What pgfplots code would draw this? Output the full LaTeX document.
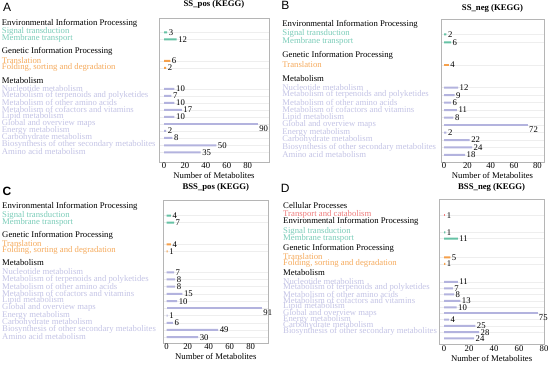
\documentclass[border=0pt]{standalone}
\usepackage{pgfplots}
\pgfplotsset{compat=1.18}
\usepackage{fontspec}
\setmainfont{Liberation Serif}
\newfontfamily\lettfont{Liberation Sans}
\definecolor{tealB}{HTML}{66C2A5}
\definecolor{tealT}{HTML}{7ACCB8}
\definecolor{orangeB}{HTML}{F5A04B}
\definecolor{orangeT}{HTML}{F5AA5C}
\definecolor{purpB}{HTML}{B3B3DE}
\definecolor{purpT}{HTML}{C3C3E5}
\definecolor{redB}{HTML}{F07A7A}
\definecolor{redT}{HTML}{EE7B7B}
\definecolor{boxc}{HTML}{B5B5B5}
\definecolor{gridc}{HTML}{EEEEEE}
\newcommand\ff{\fontsize{8.7pt}{9pt}\selectfont}
\newcommand\lf{\lettfont\fontsize{12pt}{12pt}\selectfont}
\pgfplotsset{
 panel/.style={
  scale only axis, anchor=south west,
  xbar, bar shift=0pt, bar width=2pt,
  axis line style={draw=boxc, line width=0.6pt},
  clip=false,
  xtick={0,20,40,60,80},
  xtick style={draw=none},
  ytick style={draw=none},
  /pgf/number format/assume math mode=true,
  tick label style={font=\ff},
  xticklabel style={anchor=base, yshift=-7pt, inner sep=0pt},
  yticklabel style={anchor=west, inner sep=0pt, font=\ff, text=purpT, yshift=0.5pt},
  ymajorgrids, major grid style={draw=gridc, line width=0.4pt},
  extra y tick style={grid=none, yticklabel style={text=black}},
  xlabel={Number of Metabolites},
  xlabel style={font=\ff, at={(axis description cs:0.5,0)}, anchor=base, yshift=-17pt},
  title style={font=\ff\bfseries, at={(axis description cs:0.5,1)}, anchor=base, yshift=5pt},
  point meta=x,
  nodes near coords, nodes near coords style={font=\ff, anchor=west, inner sep=1.5pt, text=black},
 },
 maxlab/.style={nodes near coords style={anchor=north west, inner sep=0pt, xshift=1pt, yshift=-1.5pt}},
}
\begin{document}
\begin{tikzpicture}
\path[use as bounding box] (0pt,-366pt) rectangle (550pt,0pt);
% ---------------- A
\begin{axis}[panel, at={(159pt,-162pt)}, width=110pt, height=144pt,
 xmin=-4.8, xmax=100.4, ymin=-162, ymax=-18,
 title={SS\_pos (KEGG)},
 ytick={-32.3,-39.3,-61,-68,-89,-96,-103,-110,-117,-124,-131,-138,-145.3,-152.3},
 yticklabels={{\color{tealT}Signal transduction},{\color{tealT}Membrane transport},{\color{orangeT}Translation},{\color{orangeT}Folding, sorting and degradation},Nucleotide metabolism,Metabolism of terpenoids and polyketides,Metabolism of other amino acids,Metabolism of cofactors and vitamins,Lipid metabolism,Global and overview maps,Energy metabolism,Carbohydrate metabolism,Biosynthesis of other secondary metabolites,Amino acid metabolism},
 extra y ticks={-24,-52.3,-80.7},
 extra y tick labels={Environmental Information Processing,Genetic Information Processing,Metabolism},
 yticklabel style={xshift=-153pt},
]
\addplot[fill=tealB, draw=none] coordinates {(3,-32.3) (12,-39.3)};
\addplot[fill=orangeB, draw=none] coordinates {(6,-61) (2,-68)};
\addplot[fill=purpB, draw=none] coordinates {(10,-89) (7,-96) (10,-103) (17,-110) (10,-117) (2,-131) (8,-138) (50,-145.3) (35,-152.3)};
\addplot[fill=purpB, draw=none, maxlab] coordinates {(90,-124)};
\node[font=\lf] at (axis cs:-150,-7) {A};
\end{axis}
% ---------------- B
\begin{axis}[panel, at={(441pt,-162pt)}, width=103pt, height=142.5pt,
 xmin=-2.6, xmax=85.7, ymin=-162, ymax=-19.5,
 title={SS\_neg (KEGG)}, title style={yshift=-2pt},
 ytick={-34.3,-42.3,-65,-87.7,-95.2,-102.6,-110.1,-117.6,-125.1,-132.6,-140.1,-147.5,-155},
 yticklabels={{\color{tealT}Signal transduction},{\color{tealT}Membrane transport},{\color{orangeT}Translation},Nucleotide metabolism,Metabolism of terpenoids and polyketides,Metabolism of other amino acids,Metabolism of cofactors and vitamins,Lipid metabolism,Global and overview maps,Energy metabolism,Carbohydrate metabolism,Biosynthesis of other secondary metabolites,Amino acid metabolism},
 extra y ticks={-25,-56,-79},
 extra y tick labels={Environmental Information Processing,Genetic Information Processing,Metabolism},
 yticklabel style={xshift=-154.5pt},
]
\addplot[fill=tealB, draw=none] coordinates {(2,-34.3) (6,-42.3)};
\addplot[fill=orangeB, draw=none] coordinates {(4,-65)};
\addplot[fill=purpB, draw=none] coordinates {(12,-87.7) (9,-95.2) (6,-102.6) (11,-110.1) (8,-117.6) (2,-132.6) (22,-140.1) (24,-147.5) (18,-155)};
\addplot[fill=purpB, draw=none, maxlab] coordinates {(72,-125.1)};
\node[font=\lf] at (axis cs:-136,-5.5) {B};
\end{axis}
% ---------------- C
\begin{axis}[panel, at={(163.3pt,-343pt)}, width=105pt, height=143pt,
 xmin=-3.2, xmax=96.8, ymin=-343, ymax=-200,
 title={BSS\_pos (KEGG)}, title style={yshift=-1pt},
 ytick={-215.7,-222.7,-244.3,-251.3,-272.3,-279.5,-286.7,-294,-301.2,-308.4,-315.6,-322.8,-330,-337.2},
 yticklabels={{\color{tealT}Signal transduction},{\color{tealT}Membrane transport},{\color{orangeT}Translation},{\color{orangeT}Folding, sorting and degradation},Nucleotide metabolism,Metabolism of terpenoids and polyketides,Metabolism of other amino acids,Metabolism of cofactors and vitamins,Lipid metabolism,Global and overview maps,Energy metabolism,Carbohydrate metabolism,Biosynthesis of other secondary metabolites,Amino acid metabolism},
 extra y ticks={-207.3,-236.3,-263},
 extra y tick labels={Environmental Information Processing,Genetic Information Processing,Metabolism},
 yticklabel style={xshift=-157pt},
]
\addplot[fill=tealB, draw=none] coordinates {(4,-215.7) (7,-222.7)};
\addplot[fill=orangeB, draw=none] coordinates {(4,-244.3) (1,-251.3)};
\addplot[fill=purpB, draw=none] coordinates {(7,-272.3) (8,-279.5) (8,-286.7) (15,-294) (10,-301.2) (1,-315.6) (6,-322.8) (49,-330) (30,-337.2)};
\addplot[fill=purpB, draw=none, maxlab] coordinates {(91,-308.4)};
\node[font=\lf\bfseries] at (axis cs:-152,-191.3) {C};
\end{axis}
% ---------------- D
\begin{axis}[panel, at={(439.3pt,-344.7pt)}, width=104.7pt, height=145pt,
 xmin=-3.76, xmax=80, ymin=-344.7, ymax=-199.7,
 title={BSS\_neg (KEGG)}, title style={yshift=-1pt},
 ytick={-215.3,-232.3,-238.7,-257.3,-263.8,-282,-288.3,-294.5,-300.8,-307.3,-313.5,-319.7,-326,-332.2},
 yticklabels={{\color{redT}Transport and catabolism},{\color{tealT}Signal transduction},{\color{tealT}Membrane transport},{\color{orangeT}Translation},{\color{orangeT}Folding, sorting and degradation},Nucleotide metabolism,Metabolism of terpenoids and polyketides,Metabolism of other amino acids,Metabolism of cofactors and vitamins,Lipid metabolism,Global and overview maps,Energy metabolism,Carbohydrate metabolism,Biosynthesis of other secondary metabolites},
 extra y ticks={-205.7,-222,-249.3,-273},
 extra y tick labels={Cellular Processes,Environmental Information Processing,Genetic Information Processing,Metabolism},
 yticklabel style={xshift=-152pt},
]
\addplot[fill=redB, draw=none] coordinates {(1,-215.3)};
\addplot[fill=tealB, draw=none] coordinates {(1,-232.3) (11,-238.7)};
\addplot[fill=orangeB, draw=none] coordinates {(5,-257.3) (1,-263.8)};
\addplot[fill=purpB, draw=none] coordinates {(11,-282) (7,-288.3) (8,-294.5) (13,-300.8) (10,-307.3) (4,-319.7) (25,-326) (28,-332.2) (24,-338.4)};
\addplot[fill=purpB, draw=none, maxlab] coordinates {(75,-313.5)};
\node[font=\lf] at (axis cs:-127,-188.8) {D};
\end{axis}
\end{tikzpicture}
\end{document}
